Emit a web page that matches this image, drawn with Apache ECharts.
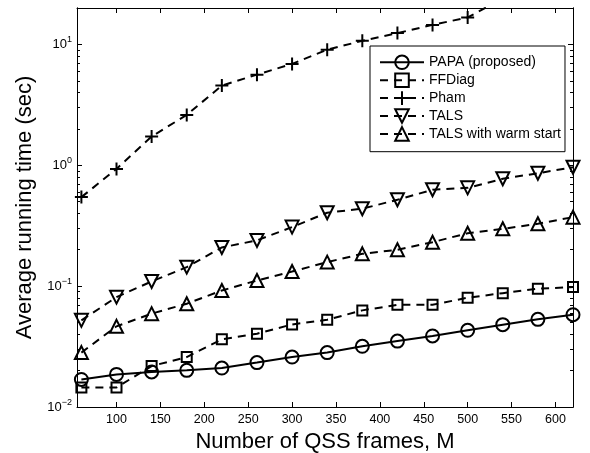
<!DOCTYPE html>
<html>
<head>
<meta charset="utf-8">
<script src="https://cdn.jsdelivr.net/npm/echarts@6/dist/echarts.min.js"></script>
<style>
  html, body { margin: 0; padding: 0; background: #fff; }
  #chart { width: 590px; height: 453px; }
</style>
</head>
<body>
<div id="chart"></div>
<script>
// number of QSS frames (x)
const frames = [60, 100, 140, 180, 220, 260, 300, 340, 380, 420, 460, 500, 540, 580, 620];

// average running time (sec)
const papa = [0.0169, 0.0186, 0.0195, 0.0201, 0.0210, 0.0233, 0.0259, 0.0282, 0.0318, 0.0351, 0.0387, 0.0431, 0.0480, 0.0531, 0.0580];
const ffdiag = [0.0145, 0.0145, 0.0218, 0.0259, 0.0363, 0.0404, 0.0482, 0.0527, 0.0630, 0.0701, 0.0701, 0.0802, 0.0875, 0.0952, 0.0982];
const pham = [0.545, 0.933, 1.73, 2.61, 4.56, 5.62, 6.89, 9.04, 10.7, 12.4, 14.5, 16.7, 24];
const tals = [0.0521, 0.0811, 0.1094, 0.1436, 0.209, 0.239, 0.308, 0.405, 0.437, 0.518, 0.627, 0.650, 0.773, 0.859, 0.962];
const talsWarm = [0.0282, 0.0465, 0.0592, 0.0715, 0.0921, 0.1114, 0.132, 0.158, 0.185, 0.200, 0.231, 0.274, 0.298, 0.328, 0.372];

const seriesNames = ['PAPA (proposed)', 'FFDiag', 'Pham', 'TALS', 'TALS with warm start'];

// tick values
const xTicks = [100, 150, 200, 250, 300, 350, 400, 450, 500, 550, 600];
const yMajor = [0.01, 0.1, 1, 10];
const yMinor = [];
[0.01, 0.1, 1].forEach(function (d) {
    for (let k = 2; k <= 9; k++) yMinor.push(+(k * d).toPrecision(3));
});

const FONT = 'Liberation Sans, Arial, Helvetica, sans-serif';

function pairs(vals) {
    return vals.map(function (v, i) { return [frames[i], v]; });
}

function yAxisBase(pos, ticks, len, labels) {
    return {
        type: 'log',
        logBase: 10,
        min: 0.01,
        max: 20,
        position: pos,
        axisLine: { show: true, onZero: false, lineStyle: { color: '#000', width: 1 } },
        axisTick: { show: true, inside: true, length: len, customValues: ticks, lineStyle: { color: '#000', width: 1 } },
        axisLabel: labels ? {
            show: true,
            customValues: yMajor,
            margin: 5,
            fontFamily: FONT,
            formatter: function (v) {
                const e = Math.round(Math.log10(v));
                return '{b|10}{s|' + String(e).replace('-', '\u2212') + '}';
            },
            rich: {
                b: { fontSize: 13, fontFamily: FONT, color: '#000', lineHeight: 18, verticalAlign: 'middle' },
                s: { fontSize: 9, fontFamily: FONT, color: '#000', lineHeight: 9, verticalAlign: 'top' }
            }
        } : { show: false },
        splitLine: { show: false },
        minorTick: { show: false }
    };
}

function xAxisBase(pos, labels) {
    return {
        type: 'value',
        min: 55,
        max: 620,
        position: pos,
        axisLine: { show: true, onZero: false, lineStyle: { color: '#000', width: 1 } },
        axisTick: { show: true, inside: true, length: 5, customValues: xTicks, lineStyle: { color: '#000', width: 1 } },
        axisLabel: labels ? {
            show: true, customValues: xTicks, margin: 6,
            fontSize: 12.5, fontFamily: FONT, color: '#000'
        } : { show: false },
        splitLine: { show: false }
    };
}

const chart = echarts.init(document.getElementById('chart'));

const markerStyle = { color: 'rgba(0,0,0,0)', borderColor: '#000', borderWidth: 2 };

function lineSeries(name, vals, symbol, size, dashed, rotate) {
    return {
        name: name,
        type: 'line',
        xAxisIndex: 0,
        yAxisIndex: 0,
        data: pairs(vals),
        symbol: symbol,
        symbolSize: size,
        symbolRotate: rotate || 0,
        showAllSymbol: true,
        clip: true,
        lineStyle: { color: '#000', width: 2, type: dashed ? [8, 6] : 'solid' },
        itemStyle: markerStyle,
        emphasis: { disabled: true }
    };
}

const xMain = xAxisBase('bottom', true);
xMain.name = 'Number of QSS frames, M';
xMain.nameLocation = 'middle';
xMain.nameGap = 21;
xMain.nameTextStyle = { fontSize: 22, fontFamily: FONT, color: '#000' };

const yMain = yAxisBase('left', yMajor, 5, true);
yMain.name = 'Average running time (sec)';
yMain.nameLocation = 'middle';
yMain.nameGap = 36;
yMain.nameTextStyle = { fontSize: 22, fontFamily: FONT, color: '#000' };

const option = {
    animation: false,
    backgroundColor: '#fff',
    textStyle: { fontFamily: FONT },
    grid: { left: 77, right: 17, top: 8, bottom: 46, outerBoundsMode: 'none' },
    xAxis: [xMain, xAxisBase('top', false)],
    yAxis: [
        yMain,
        yAxisBase('left', yMinor, 3, false),
        yAxisBase('right', yMajor, 5, false),
        yAxisBase('right', yMinor, 3, false)
    ],
    legend: {
        data: seriesNames,
        orient: 'vertical',
        left: 370,
        top: 46,
        padding: [8.5, 4, 10, 9],
        itemGap: 2.3,
        itemWidth: 44,
        itemHeight: 17,
        backgroundColor: '#fff',
        borderColor: '#000',
        borderWidth: 1,
        borderRadius: 0,
        selectedMode: false,
        textStyle: { fontSize: 14, fontFamily: FONT, color: '#000' },
        itemStyle: { color: 'rgba(0,0,0,0)', borderColor: '#000', borderWidth: 2 },
        lineStyle: { color: '#000', width: 2 }
    },
    series: [
        lineSeries(seriesNames[0], papa, 'circle', 13, false),
        lineSeries(seriesNames[1], ffdiag, 'rect', 10, true),
        lineSeries(seriesNames[2], pham, 'path://M5,0L5,10M0,5L10,5', 13, true),
        lineSeries(seriesNames[3], tals, 'triangle', 13, true, 180),
        lineSeries(seriesNames[4], talsWarm, 'triangle', 13, true)
    ]
};

chart.setOption(option);
</script>
</body>
</html>
